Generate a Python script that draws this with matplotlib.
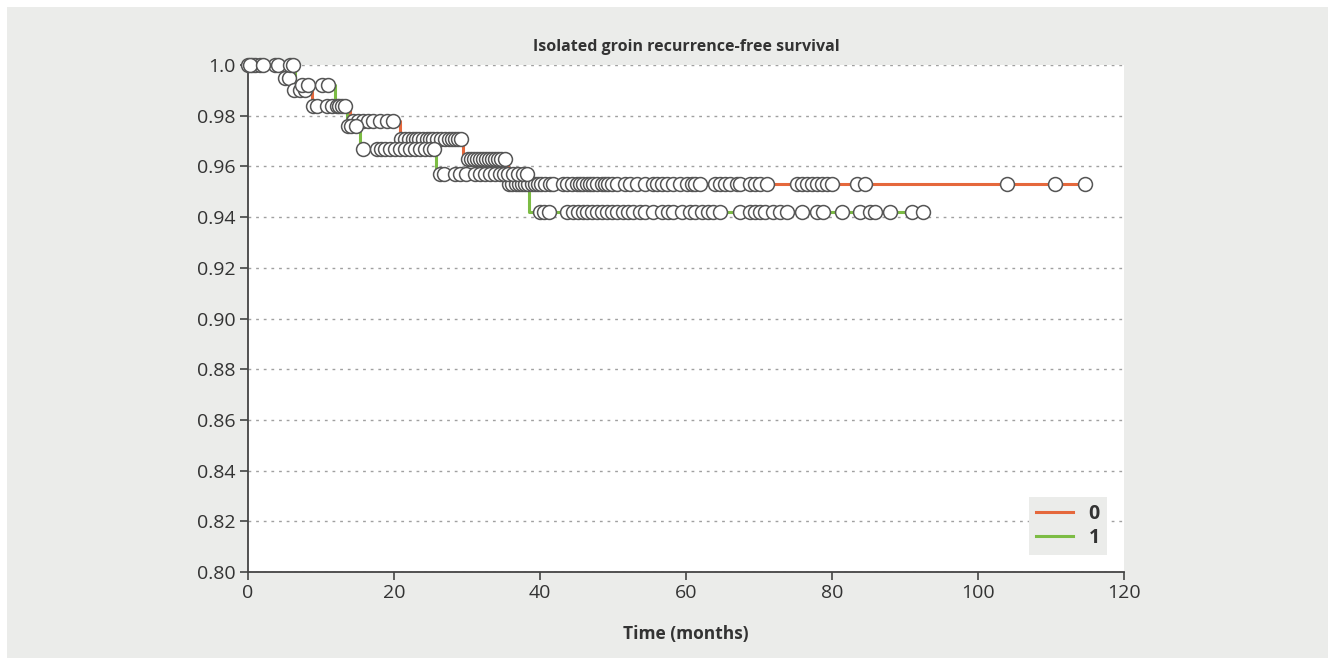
import numpy as np
import matplotlib
matplotlib.use("Agg")
import matplotlib.pyplot as plt
from matplotlib.lines import Line2D
from matplotlib.patches import Rectangle

plt.rcParams['font.family'] = ['Open Sans', 'DejaVu Sans']

title = "Isolated groin recurrence-free survival"
xlabel = "Time (months)"
group_labels = ["0", "1"]

# Group 0 (orange)
grp0_event_t = [4.6, 6.0, 8.8, 14.0, 20.8, 29.5, 35.6]
grp0_surv = [0.995, 0.990, 0.984, 0.978, 0.971, 0.963, 0.953]
grp0_end = 114.7
grp0_censor = [0.0, 0.5, 1.0, 1.6, 3.7,
               5.0, 5.6,
               6.3, 7.1, 7.8,
               8.9, 9.5, 10.8, 11.5, 12.2,
               14.4, 15.1, 15.8, 16.4, 17.1, 18.1, 19.0, 19.9,
               21.0, 21.5, 22.1, 22.6, 23.0, 23.4, 24.0, 24.5, 24.9, 25.3, 25.9,
               26.4, 27.0, 27.5, 27.9, 28.4, 28.8, 29.2,
               30.1, 30.5, 30.9, 31.4, 31.8, 32.2, 32.6, 33.0, 33.4, 33.8, 34.2,
               34.7, 35.2,
               35.8, 36.2, 36.7, 37.1, 37.5, 37.9, 38.4, 38.9, 39.3, 39.7, 40.1,
               40.7, 41.4, 41.8, 43.2, 43.7, 44.4, 45.1, 45.5, 45.9, 46.4, 46.8,
               47.3, 47.8, 48.5, 48.9, 49.3, 49.9, 50.5, 51.6, 52.3, 53.3, 54.4,
               55.5, 56.0, 56.7, 57.4, 58.2, 59.2, 60.1, 60.8, 61.2, 61.9, 64.0,
               64.7, 65.3, 66.0, 67.0, 67.4, 68.8, 69.5, 70.1, 71.1, 75.2, 75.9,
               76.6, 77.3, 77.9, 78.6, 79.3, 80.0, 83.4, 84.5, 104.0, 110.5, 114.7]

# Group 1 (green)
grp1_event_t = [6.4, 11.9, 13.5, 15.3, 25.8, 38.5]
grp1_surv = [0.992, 0.984, 0.976, 0.967, 0.957, 0.942]
grp1_end = 92.5
grp1_censor = [0.3, 2.0, 4.1, 5.8, 6.2,
               7.4, 8.2, 10.1, 11.0,
               12.4, 12.9, 13.3,
               13.7, 14.1, 14.8,
               15.8, 17.7, 18.2, 18.8, 19.5, 20.1, 20.8, 21.5, 22.2, 22.9, 23.6,
               24.2, 24.9, 25.5,
               26.3, 26.8, 28.4, 29.0, 29.9, 31.1, 31.8, 32.5, 33.2, 33.8, 34.5,
               35.1, 35.6, 36.3, 37.0, 37.7, 38.2,
               40.0, 40.5, 41.2, 43.7, 44.5, 45.2, 45.9, 46.4, 47.1, 47.8, 48.5,
               49.2, 49.9, 50.5, 51.4, 52.1, 52.7, 53.7, 54.4, 55.5, 56.7, 57.5,
               58.2, 59.5, 60.5, 61.2, 62.2, 63.0, 63.7, 64.7, 67.4, 68.8, 69.5,
               70.1, 70.8, 71.9, 72.9, 73.8, 75.9, 77.9, 78.8, 81.4, 83.8, 85.2,
               85.9, 87.9, 91.0, 92.5]

y_ticks = [0.80, 0.82, 0.84, 0.86, 0.88, 0.90, 0.92, 0.94, 0.96, 0.98, 1.0]
y_ticklabels = ["0.80", "0.82", "0.84", "0.86", "0.88", "0.90", "0.92",
                "0.94", "0.96", "0.98", "1.0"]
x_ticks = [0, 20, 40, 60, 80, 100, 120]

c0 = "#e5683c"
c1 = "#7cbc44"
bg = "#ebecea"
txt = "#333333"

fig = plt.figure(figsize=(13.35, 6.65), dpi=100, facecolor="white")
fig.patches.append(Rectangle((7/1335, 7/665), 1-14/1335, 1-14/665,
                             transform=fig.transFigure, facecolor=bg,
                             edgecolor='none', zorder=-10))
ax = fig.add_axes([248/1335, 1-572/665, (1124-248)/1335, (572-65)/665])
ax.set_facecolor("white")


def curve(ev_t, surv, end):
    t = [0.0] + list(ev_t) + [end]
    s = [1.0] + list(surv) + [surv[-1]]
    return np.array(t), np.array(s)


def surv_at(ev_t, surv, times):
    out = []
    for x in times:
        idx = np.searchsorted(np.array(ev_t), x, side='right')
        out.append(1.0 if idx == 0 else surv[idx-1])
    return np.array(out)


for ev, sv, end, col in [(grp0_event_t, grp0_surv, grp0_end, c0),
                         (grp1_event_t, grp1_surv, grp1_end, c1)]:
    t, s = curve(ev, sv, end)
    ax.step(t, s, where='post', color=col, lw=2.2, zorder=3, clip_on=False)

for ev, sv, cens in [(grp0_event_t, grp0_surv, grp0_censor),
                     (grp1_event_t, grp1_surv, grp1_censor)]:
    cy = surv_at(ev, sv, cens)
    ax.plot(cens, cy, ls='none', marker='o', ms=10, mfc='white', mec='#555555',
            mew=1.1, zorder=4, clip_on=False)

ax.set_xlim(0, 120)
ax.set_ylim(0.80, 1.0)
ax.set_yticks(y_ticks)
ax.set_yticklabels(y_ticklabels)
ax.set_xticks(x_ticks)
ax.yaxis.grid(True, linestyle=(0, (2, 3.5)), color='#a0a0a0', lw=1.0)
ax.set_axisbelow(True)
for sp in ['top', 'right']:
    ax.spines[sp].set_visible(False)
for sp in ['left', 'bottom']:
    ax.spines[sp].set_color('#444444')
    ax.spines[sp].set_linewidth(1.3)
ax.tick_params(axis='both', direction='out', length=6, width=1.2, color='#444444',
               labelcolor=txt, labelsize=14, pad=3)

ax.set_title(title, fontsize=11.5, fontweight='bold', color=txt, pad=10)
ax.set_xlabel(xlabel, fontsize=12.5, fontweight='bold', color=txt, labelpad=16)

handles = [Line2D([0], [0], color=c0, lw=2.2), Line2D([0], [0], color=c1, lw=2.2)]
leg = ax.legend(handles, group_labels, loc='lower right', frameon=True,
                facecolor=bg, edgecolor='none', framealpha=1, fancybox=False,
                prop={'weight': 'bold', 'size': 14}, handlelength=1.9,
                borderaxespad=0.9, labelspacing=0.2, borderpad=0.35)
for tx in leg.get_texts():
    tx.set_color(txt)

fig.savefig("out.png", dpi=100, facecolor="white")
